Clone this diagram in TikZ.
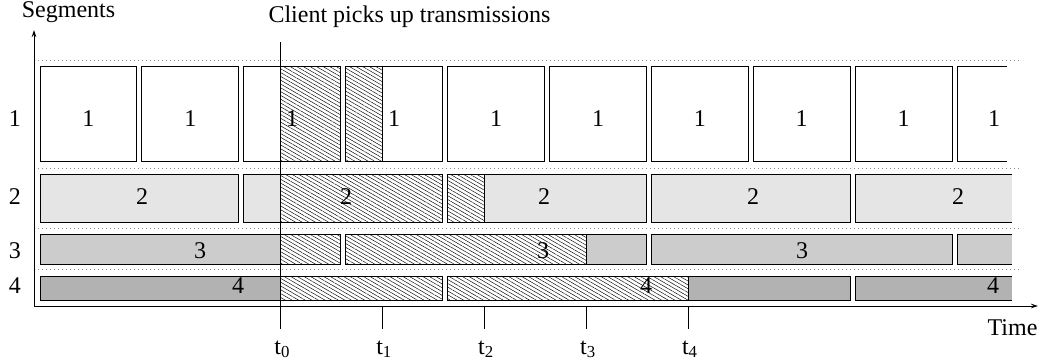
\documentclass[tikz,border=0pt]{standalone}
\usepackage{fontspec}
\setmainfont{Liberation Serif}
\usetikzlibrary{patterns.meta,arrows.meta}
\definecolor{segA}{gray}{1.0}
\definecolor{segB}{gray}{0.90}
\definecolor{segC}{gray}{0.80}
\definecolor{segD}{gray}{0.70}
\begin{document}
\begin{tikzpicture}[x=1pt,y=-1pt,
  box/.style={draw=black,line width=0.9pt},
  openbox/.style={draw=black,line width=0.9pt},
  hatchbg/.style={fill=white},
  hatch/.style={pattern={Lines[angle=-30,distance=3.3pt,line width=0.45pt]},pattern color=black},
  hatchedge/.style={draw=black,line width=0.9pt},
  sep/.style={draw=black!45,line width=0.9pt,dash pattern=on 1pt off 3pt},
  txt/.style={font=\fontsize{24}{28}\selectfont,inner sep=0pt,anchor=base},
  axis/.style={line width=0.9pt,-{Stealth[length=7pt,width=4.5pt]}},
  tick/.style={line width=0.9pt}]
\useasboundingbox (0,0) rectangle (1039,364);

% row separators
\foreach \y in {60,168,228,269}
  \draw[sep] (34,\y) -- (1020,\y);

% segment 1 (one slot per broadcast)
\foreach \s in {40,141.9,243.8,345.7,447.6,549.5,651.4,753.3,855.2}
  \filldraw[box,fill=segA] (\s,66) rectangle ++(96.9,95);
\fill[segA] (957.1,66) rectangle (1006.7,161);
\draw[openbox] (1006.7,66) -- (957.1,66) -- (957.1,161) -- (1006.7,161);

% segment 2 (two slots)
\foreach \s in {40,243.8,447.6,651.4}
  \filldraw[box,fill=segB] (\s,174) rectangle ++(198.8,48);
\fill[segB] (855.2,174) rectangle (1012,222);
\draw[openbox] (1012,174) -- (855.2,174) -- (855.2,222) -- (1012,222);

% segment 3 (three slots)
\foreach \s in {40,345.7,651.4}
  \filldraw[box,fill=segC] (\s,234) rectangle ++(300.7,30);
\fill[segC] (957.1,234) rectangle (1012,264);
\draw[openbox] (1012,234) -- (957.1,234) -- (957.1,264) -- (1012,264);

% segment 4 (four slots)
\foreach \s in {40,447.6}
  \filldraw[box,fill=segD] (\s,276) rectangle ++(402.6,24);
\fill[segD] (855.2,276) rectangle (1012,300);
\draw[openbox] (1012,276) -- (855.2,276) -- (855.2,300) -- (1012,300);

% parts received by the client
\foreach \xa/\xb/\ya/\yb in {280.7/340.7/66/161, 345.7/382.6/66/161,
                             280.7/442.6/174/222, 447.6/484.5/174/222,
                             280.7/340.7/234/264, 345.7/586.4/234/264,
                             280.7/442.6/276/300, 447.6/688.3/276/300}{
  \fill[hatchbg] (\xa,\ya) rectangle (\xb,\yb);
  \fill[hatch] (\xa,\ya) rectangle (\xb,\yb);
  \draw[hatchedge] (\xa,\ya) rectangle (\xb,\yb);
}

% segment numbers inside the slots
\foreach \x [count=\i] in {88.4,190.3,292.2,394.1,496,598,699.8,801.7,903.6,994}
  \node[txt] (one\i) at (\x,126.5) {1};
\foreach \x [count=\i] in {142,346,544,753,958}
  \node[txt] (two\i) at (\x,204) {2};
\foreach \x [count=\i] in {200,543,802}
  \node[txt] (three\i) at (\x,258) {3};
\foreach \x [count=\i] in {238,646,993}
  \node[txt] (four\i) at (\x,293) {4};

% row numbers
\node[txt] (row1) at (15,126.5) {1};
\node[txt] (row2) at (15,204) {2};
\node[txt] (row3) at (15,258) {3};
\node[txt] (row4) at (15,293) {4};

% axes
\coordinate (origin) at (34,306);
\coordinate (ytop) at (34,30);
\coordinate (xend) at (1038,306);
\draw[axis] (origin) -- (ytop);
\draw[axis] (origin) -- (xend);
\node[txt] (seglabel) at (68.5,17) {Segments};
\node[txt] (timelabel) at (1012.5,335) {Time};

% client start line and time ticks
\coordinate (clienttop) at (280.7,42);
\node[txt] (clientlabel) at (409.5,23) {Client picks up transmissions};
\foreach \x/\k in {280.7/0,382.6/1,484.5/2,586.4/3,688.3/4}{
  \coordinate (tb\k) at (\x,329);
  \node[txt] (t\k) at (\x+1.5,354) {t\textsubscript{\k}};
}
\draw[tick] (clienttop) -- (tb0);
\foreach \k in {1,...,4}
  \draw[tick] (origin -| tb\k) -- (tb\k);
\end{tikzpicture}
\end{document}
